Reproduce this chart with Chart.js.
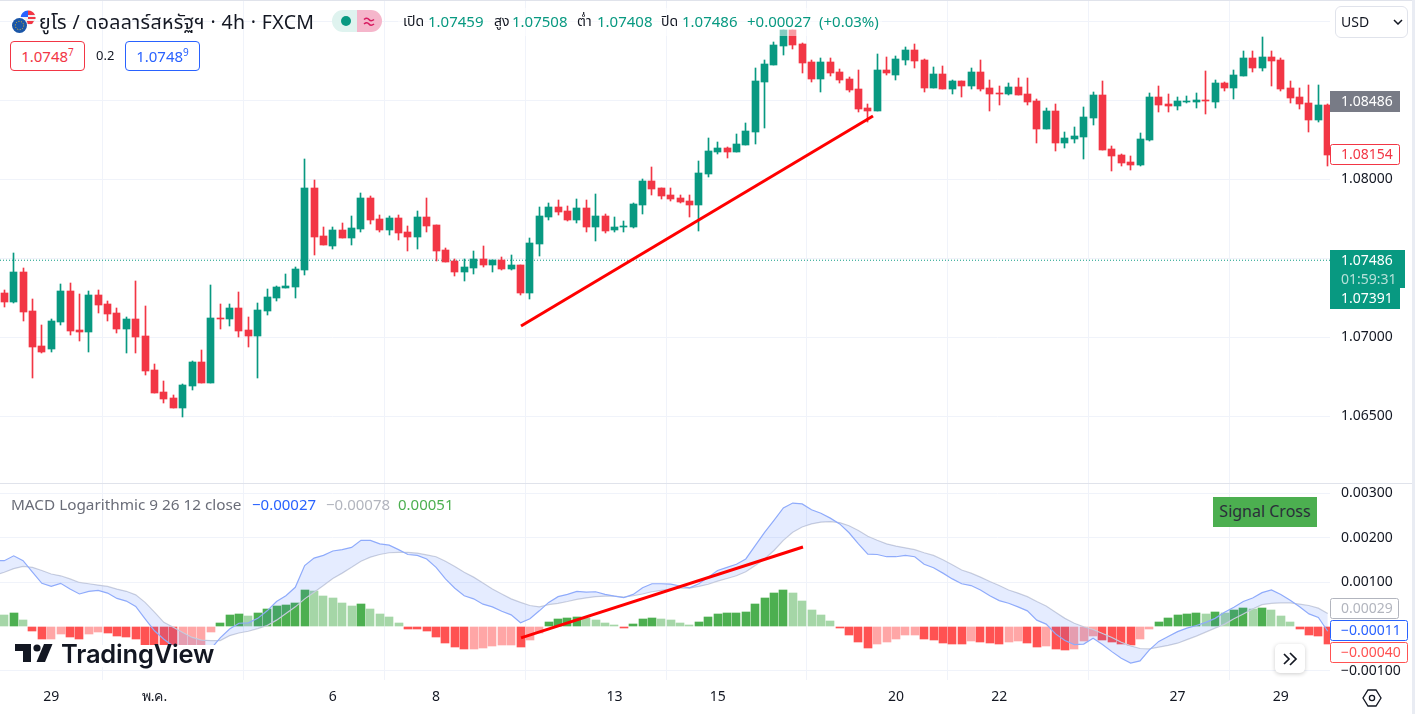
<!DOCTYPE html>
<html lang="th">
<head>
<meta charset="utf-8">
<title>EURUSD 4h</title>
<script src="https://cdn.jsdelivr.net/npm/chart.js@4/dist/chart.umd.min.js"></script>
<style>
    html, body { margin: 0; padding: 0; background: #fff; }
    body { width: 1415px; height: 714px; overflow: hidden; position: relative; font-family: "Noto Sans", "Noto Sans Thai", sans-serif; color: #131722; }
    canvas { position: absolute; left: 0; display: block; }
    .abs { position: absolute; white-space: nowrap; line-height: 1; }
    .pane-line { position: absolute; left: 0; top: 483px; width: 1415px; height: 1px; background: #e0e3eb; }
    .frame-top { position: absolute; left: 0; top: 0; width: 1415px; height: 1px; background: #e0e3eb; }
    .frame-right { position: absolute; left: 1412px; top: 0; width: 3px; height: 714px; background: #e9ecf3; }
    .legend-veil { position: absolute; left: 398px; top: 8px; width: 484px; height: 28px; background: rgba(255,255,255,0.5); }
    .quote { position: absolute; top: 41px; width: 73px; height: 28px; border: 1px solid; border-radius: 4px; font-size: 15px; line-height: 29px; text-align: center; background: #fff; }
    .quote sup { font-size: 10px; line-height: 0; }
    .signal { position: absolute; left: 1213px; top: 497px; width: 104px; height: 30px; background: #4caf50; color: #2a2e39; font-size: 16px; line-height: 28px; text-align: center; }
    .usd { position: absolute; left: 1335px; top: 6px; width: 71px; height: 30px; border: 1px solid #e0e3eb; border-radius: 6px; font-size: 14px; line-height: 30px; padding-left: 0; }
    .scroll-btn { position: absolute; left: 1275px; top: 644px; width: 30px; height: 29px; background: #fff; border-radius: 5px; box-shadow: 0 1px 4px rgba(0,0,0,0.2); }
    .logo-back { position: absolute; left: 12px; top: 645px; width: 203px; height: 22px; background: #fff; }
    .logo-text { position: absolute; left: 61px; top: 640px; font-family: Inter, sans-serif; font-size: 25.5px; font-weight: 600; line-height: 28px; letter-spacing: -0.2px; color: #131722; }
</style>
</head>
<body>
<canvas id="priceCanvas" width="1415" height="483" style="top:0"></canvas>
<canvas id="macdCanvas" width="1415" height="230" style="top:484px"></canvas>
<div class="pane-line"></div>
<div class="frame-top"></div>
<div class="frame-right"></div>
<div class="legend-veil"></div>

<svg class="abs" style="left:10px;top:9px" width="26" height="26" viewBox="0 0 26 26">
    <circle cx="18" cy="9" r="7.5" fill="#f0f0f0"/>
    <path d="M18 1.5a7.5 7.5 0 0 1 7 4.5h-7zM18 8h7.5v2H18zM16 12h8l-2 3h-6z" fill="#f23645"/>
    <path d="M10.5 9a7.5 7.5 0 0 1 7.5-7.5V8h-7z" fill="#2962ff"/>
    <circle cx="9.5" cy="16.5" r="8.5" fill="#fff"/>
    <circle cx="9.5" cy="16.5" r="7.5" fill="#1a56a8"/>
    <circle cx="9.5" cy="16.5" r="4.2" fill="none" stroke="#f5c518" stroke-width="1" stroke-dasharray="1 1.6"/>
</svg>
<div class="abs" id="title" style="left:39px;top:12px;font-size:19.5px;letter-spacing:0.35px;color:#131722">ยูโร / ดอลลาร์สหรัฐฯ · 4h · FXCM</div>

<svg class="abs" style="left:332px;top:10px" width="50" height="22" viewBox="0 0 50 22">
    <path d="M25 0H11a11 11 0 0 0 0 22h14z" fill="#dff3ef"/>
    <path d="M25 0h14a11 11 0 0 1 0 22H25z" fill="#f5b6cb"/>
    <circle cx="14" cy="11" r="5" fill="#089981"/>
    <path d="M32 9.5q3-2.5 5 0t5 0M32 14q3-2.5 5 0t5 0" fill="none" stroke="#d81b60" stroke-width="1.6"/>
</svg>

<div class="abs" style="left:403px;top:14px;font-size:14px">เปิด</div>
<div class="abs" style="left:428px;top:14px;font-size:15px;color:#089981">1.07459</div>
<div class="abs" style="left:494px;top:14px;font-size:14px">สูง</div>
<div class="abs" style="left:512px;top:14px;font-size:15px;color:#089981">1.07508</div>
<div class="abs" style="left:577px;top:14px;font-size:14px">ต่ำ</div>
<div class="abs" style="left:597px;top:14px;font-size:15px;color:#089981">1.07408</div>
<div class="abs" style="left:661px;top:14px;font-size:14px">ปิด</div>
<div class="abs" style="left:682px;top:14px;font-size:15px;color:#089981">1.07486</div>
<div class="abs" style="left:747px;top:14px;font-size:15px;color:#089981">+0.00027</div>
<div class="abs" style="left:819px;top:14px;font-size:15px;color:#089981">(+0.03%)</div>

<div class="quote" style="left:10px;color:#f23645;border-color:#f23645">1.0748<sup>7</sup></div>
<div class="abs" style="left:96px;top:49px;font-size:13px">0.2</div>
<div class="quote" style="left:125px;color:#2962ff;border-color:#2962ff">1.0748<sup>9</sup></div>

<div class="usd"><span style="margin-left:5px">USD</span>
    <svg class="abs" style="left:57px;top:12px" width="10" height="6" viewBox="0 0 10 6"><path d="M1 1l4 4 4-4" fill="none" stroke="#131722" stroke-width="1.5"/></svg>
</div>

<div class="abs" style="left:11px;top:497px;font-size:15.3px;color:#6a6d78">MACD Logarithmic 9 26 12 close</div>
<div class="abs" style="left:252px;top:497px;font-size:15px;color:#2962ff">−0.00027</div>
<div class="abs" style="left:326px;top:497px;font-size:15px;color:#b2b5be">−0.00078</div>
<div class="abs" style="left:398px;top:497px;font-size:15px;color:#4caf50">0.00051</div>

<div class="signal">Signal Cross</div>

<div class="logo-back"></div>
<svg class="abs" style="left:15px;top:644px" width="38" height="19" viewBox="0 0 38 19">
    <path d="M0 0h16v18H8V7H0z" fill="#131722"/>
    <circle cx="22" cy="4" r="3.6" fill="#131722"/>
    <path d="M29 0h8.5l-7.5 18h-8.5z" fill="#131722"/>
</svg>
<div class="logo-text">TradingView</div>

<div class="scroll-btn">
    <svg class="abs" style="left:8px;top:8px" width="15" height="14" viewBox="0 0 15 14"><path d="M1 2l5 5-5 5M7 1l6 6-6 6" fill="none" stroke="#131722" stroke-width="1.7"/></svg>
</div>
<svg class="abs" style="left:1362px;top:688px" width="20" height="20" viewBox="0 0 20 20">
    <path d="M6 2h8l5 8-5 8H6l-5-8z" fill="none" stroke="#131722" stroke-width="1.3"/>
    <circle cx="10" cy="10" r="2.6" fill="none" stroke="#131722" stroke-width="1.3"/>
</svg>

<script>
const candleOpen = [
    1.07279, 1.07222, 1.07412, 1.07165, 1.06943, 1.06924, 1.07095, 1.07291, 1.07044, 1.07032, 1.07266, 1.07209,
    1.07152, 1.07051, 1.07114, 1.07007, 1.06791, 1.06652, 1.06614, 1.06551, 1.06690, 1.06842, 1.06709, 1.07120,
    1.07114, 1.07184, 1.07044, 1.07007, 1.07165, 1.07247, 1.07310, 1.07317, 1.07424, 1.07943, 1.07640, 1.07576,
    1.07677, 1.07627, 1.07684, 1.07880, 1.07747, 1.07677, 1.07753, 1.07665, 1.07633, 1.07760, 1.07709, 1.07551,
    1.07481, 1.07412, 1.07437, 1.07494, 1.07456, 1.07487, 1.07430, 1.07456, 1.07278, 1.07589, 1.07759, 1.07823,
    1.07797, 1.07740, 1.07816, 1.07696, 1.07766, 1.07677, 1.07696, 1.07696, 1.07835, 1.07987, 1.07943, 1.07899,
    1.07880, 1.07861, 1.07835, 1.08031, 1.08170, 1.08196, 1.08170, 1.08215, 1.08297, 1.08614, 1.08721, 1.08841,
    1.08943, 1.08854, 1.08740, 1.08633, 1.08740, 1.08677, 1.08633, 1.08569, 1.08449, 1.08430, 1.08689, 1.08658,
    1.08753, 1.08816, 1.08753, 1.08576, 1.08664, 1.08569, 1.08620, 1.08588, 1.08677, 1.08576, 1.08544, 1.08538,
    1.08582, 1.08538, 1.08493, 1.08316, 1.08430, 1.08227, 1.08253, 1.08265, 1.08386, 1.08531, 1.08189, 1.08151,
    1.08107, 1.08088, 1.08246, 1.08519, 1.08474, 1.08462, 1.08487, 1.08487, 1.08500, 1.08487, 1.08607, 1.08576,
    1.08652, 1.08765, 1.08702, 1.08772, 1.08753, 1.08576, 1.08519, 1.08481, 1.08373, 1.08468
];
const candleHigh = [
    1.07298, 1.07532, 1.07437, 1.07241, 1.07076, 1.07114, 1.07336, 1.07342, 1.07272, 1.07291, 1.07298, 1.07228,
    1.07184, 1.07127, 1.07355, 1.07196, 1.06829, 1.06722, 1.06633, 1.06703, 1.06848, 1.06918, 1.07329, 1.07209,
    1.07209, 1.07285, 1.07127, 1.07215, 1.07304, 1.07323, 1.07399, 1.07443, 1.08127, 1.07994, 1.07696, 1.07696,
    1.07722, 1.07766, 1.07912, 1.07893, 1.07772, 1.07766, 1.07772, 1.07703, 1.07798, 1.07880, 1.07709, 1.07564,
    1.07494, 1.07494, 1.07544, 1.07576, 1.07487, 1.07506, 1.07519, 1.07456, 1.07627, 1.07823, 1.07848, 1.07867,
    1.07829, 1.07873, 1.07867, 1.07905, 1.07778, 1.07759, 1.07734, 1.07848, 1.08000, 1.08075, 1.07943, 1.07943,
    1.07899, 1.07899, 1.08113, 1.08259, 1.08234, 1.08202, 1.08284, 1.08354, 1.08702, 1.08753, 1.08867, 1.08943,
    1.08943, 1.08860, 1.08753, 1.08765, 1.08765, 1.08696, 1.08645, 1.08689, 1.08474, 1.08791, 1.08772, 1.08778,
    1.08835, 1.08854, 1.08759, 1.08708, 1.08715, 1.08626, 1.08620, 1.08702, 1.08753, 1.08626, 1.08588, 1.08607,
    1.08639, 1.08639, 1.08506, 1.08449, 1.08474, 1.08297, 1.08329, 1.08455, 1.08550, 1.08620, 1.08208, 1.08158,
    1.08145, 1.08291, 1.08544, 1.08588, 1.08538, 1.08519, 1.08525, 1.08544, 1.08683, 1.08626, 1.08614, 1.08689,
    1.08810, 1.08810, 1.08898, 1.08810, 1.08765, 1.08620, 1.08576, 1.08595, 1.08595, 1.08474
];
const candleLow = [
    1.07190, 1.07215, 1.07101, 1.06741, 1.06899, 1.06905, 1.07076, 1.07013, 1.06975, 1.06905, 1.07152, 1.07101,
    1.07026, 1.06899, 1.06899, 1.06760, 1.06646, 1.06582, 1.06551, 1.06494, 1.06665, 1.06709, 1.06709, 1.07051,
    1.07070, 1.07000, 1.06937, 1.06741, 1.07139, 1.07228, 1.07310, 1.07247, 1.07393, 1.07519, 1.07583, 1.07557,
    1.07627, 1.07583, 1.07665, 1.07715, 1.07665, 1.07646, 1.07614, 1.07545, 1.07557, 1.07665, 1.07481, 1.07475,
    1.07386, 1.07355, 1.07399, 1.07443, 1.07411, 1.07424, 1.07424, 1.07266, 1.07240, 1.07513, 1.07740, 1.07772,
    1.07734, 1.07722, 1.07665, 1.07608, 1.07658, 1.07665, 1.07665, 1.07690, 1.07778, 1.07898, 1.07873, 1.07861,
    1.07848, 1.07759, 1.07670, 1.08012, 1.08158, 1.08132, 1.08170, 1.08215, 1.08221, 1.08322, 1.08721, 1.08784,
    1.08822, 1.08671, 1.08614, 1.08550, 1.08652, 1.08607, 1.08550, 1.08424, 1.08360, 1.08430, 1.08658, 1.08626,
    1.08721, 1.08702, 1.08550, 1.08576, 1.08569, 1.08538, 1.08519, 1.08569, 1.08557, 1.08430, 1.08468, 1.08531,
    1.08531, 1.08468, 1.08227, 1.08316, 1.08177, 1.08196, 1.08227, 1.08126, 1.08341, 1.08183, 1.08050, 1.08082,
    1.08056, 1.08082, 1.08240, 1.08424, 1.08424, 1.08436, 1.08481, 1.08449, 1.08411, 1.08449, 1.08557, 1.08506,
    1.08652, 1.08677, 1.08683, 1.08588, 1.08557, 1.08481, 1.08443, 1.08297, 1.08360, 1.08082
];
const candleClose = [
    1.07222, 1.07412, 1.07158, 1.06937, 1.06905, 1.07101, 1.07291, 1.07038, 1.07032, 1.07266, 1.07203, 1.07146,
    1.07051, 1.07114, 1.07000, 1.06785, 1.06646, 1.06608, 1.06551, 1.06696, 1.06842, 1.06709, 1.07120, 1.07114,
    1.07184, 1.07038, 1.07007, 1.07171, 1.07253, 1.07317, 1.07323, 1.07431, 1.07943, 1.07633, 1.07583, 1.07677,
    1.07627, 1.07690, 1.07880, 1.07741, 1.07677, 1.07753, 1.07659, 1.07633, 1.07760, 1.07703, 1.07545, 1.07475,
    1.07412, 1.07443, 1.07494, 1.07456, 1.07487, 1.07430, 1.07456, 1.07278, 1.07595, 1.07766, 1.07823, 1.07791,
    1.07740, 1.07816, 1.07696, 1.07766, 1.07671, 1.07696, 1.07703, 1.07842, 1.07987, 1.07936, 1.07892, 1.07873,
    1.07854, 1.07835, 1.08038, 1.08177, 1.08196, 1.08170, 1.08221, 1.08303, 1.08620, 1.08727, 1.08848, 1.08943,
    1.08848, 1.08734, 1.08633, 1.08740, 1.08671, 1.08626, 1.08563, 1.08443, 1.08430, 1.08689, 1.08671, 1.08759,
    1.08816, 1.08746, 1.08576, 1.08664, 1.08569, 1.08620, 1.08588, 1.08677, 1.08569, 1.08538, 1.08538, 1.08582,
    1.08531, 1.08487, 1.08316, 1.08430, 1.08227, 1.08259, 1.08272, 1.08392, 1.08531, 1.08183, 1.08145, 1.08101,
    1.08088, 1.08253, 1.08519, 1.08468, 1.08462, 1.08493, 1.08493, 1.08500, 1.08493, 1.08607, 1.08576, 1.08658,
    1.08765, 1.08702, 1.08772, 1.08746, 1.08569, 1.08512, 1.08474, 1.08373, 1.08468, 1.08154
];

const macdLine = [
    0.00148, 0.00159, 0.00148, 0.00122, 0.00097, 0.00090, 0.00097, 0.00084, 0.00073, 0.00079, 0.00081, 0.00075,
    0.00063, 0.00057, 0.00045, 0.00017, -0.00010, -0.00029, -0.00045, -0.00055, -0.00062, -0.00062, -0.00051, -0.00026,
    -0.00006, 0.00007, 0.00008, 0.00018, 0.00035, 0.00056, 0.00069, 0.00088, 0.00137, 0.00154, 0.00160, 0.00170,
    0.00173, 0.00178, 0.00194, 0.00194, 0.00186, 0.00183, 0.00173, 0.00162, 0.00160, 0.00152, 0.00133, 0.00107,
    0.00086, 0.00069, 0.00062, 0.00050, 0.00044, 0.00034, 0.00026, 0.00008, 0.00017, 0.00035, 0.00054, 0.00067,
    0.00072, 0.00079, 0.00077, 0.00078, 0.00072, 0.00068, 0.00065, 0.00072, 0.00087, 0.00096, 0.00096, 0.00095,
    0.00091, 0.00087, 0.00096, 0.00111, 0.00126, 0.00133, 0.00140, 0.00152, 0.00182, 0.00212, 0.00239, 0.00267,
    0.00278, 0.00276, 0.00263, 0.00255, 0.00244, 0.00231, 0.00211, 0.00186, 0.00163, 0.00162, 0.00157, 0.00157,
    0.00160, 0.00157, 0.00140, 0.00132, 0.00120, 0.00107, 0.00096, 0.00092, 0.00082, 0.00069, 0.00058, 0.00052,
    0.00044, 0.00035, 0.00014, 0.00005, -0.00017, -0.00032, -0.00041, -0.00040, -0.00027, -0.00041, -0.00057, -0.00072,
    -0.00083, -0.00078, -0.00053, -0.00034, -0.00023, -0.00012, -0.00004, 0.00002, 0.00009, 0.00018, 0.00032, 0.00043,
    0.00056, 0.00064, 0.00076, 0.00082, 0.00072, 0.00059, 0.00044, 0.00028, 0.00020, -0.00011
];
const signalLine = [
    0.00122, 0.00130, 0.00135, 0.00133, 0.00126, 0.00118, 0.00114, 0.00107, 0.00099, 0.00096, 0.00093, 0.00090,
    0.00084, 0.00079, 0.00071, 0.00054, 0.00032, 0.00009, -0.00002, -0.00014, -0.00025, -0.00031, -0.00032, -0.00032,
    -0.00021, -0.00015, -0.00011, -0.00005, 0.00002, 0.00014, 0.00029, 0.00044, 0.00062, 0.00077, 0.00092, 0.00108,
    0.00120, 0.00133, 0.00147, 0.00156, 0.00162, 0.00166, 0.00167, 0.00167, 0.00165, 0.00161, 0.00157, 0.00147,
    0.00135, 0.00122, 0.00111, 0.00098, 0.00084, 0.00073, 0.00062, 0.00054, 0.00047, 0.00044, 0.00049, 0.00052,
    0.00056, 0.00061, 0.00064, 0.00067, 0.00068, 0.00068, 0.00066, 0.00069, 0.00073, 0.00078, 0.00081, 0.00084,
    0.00086, 0.00086, 0.00090, 0.00095, 0.00102, 0.00108, 0.00114, 0.00123, 0.00137, 0.00152, 0.00171, 0.00194,
    0.00212, 0.00224, 0.00231, 0.00235, 0.00236, 0.00234, 0.00227, 0.00216, 0.00203, 0.00194, 0.00186, 0.00181,
    0.00177, 0.00173, 0.00166, 0.00160, 0.00150, 0.00139, 0.00127, 0.00120, 0.00111, 0.00101, 0.00092, 0.00082,
    0.00075, 0.00067, 0.00056, 0.00046, 0.00032, 0.00018, 0.00007, -0.00001, -0.00007, -0.00016, -0.00025, -0.00036,
    -0.00044, -0.00050, -0.00051, -0.00047, -0.00043, -0.00038, -0.00030, -0.00022, -0.00013, -0.00004, 0.00005, 0.00017,
    0.00028, 0.00039, 0.00049, 0.00052, 0.00053, 0.00053, 0.00050, 0.00047, 0.00041, 0.00029
];
const macdHistogram = [
    0.00026, 0.00030, 0.00014, -0.00011, -0.00029, -0.00028, -0.00017, -0.00024, -0.00029, -0.00017, -0.00013, -0.00015,
    -0.00022, -0.00023, -0.00029, -0.00044, -0.00047, -0.00048, -0.00049, -0.00048, -0.00045, -0.00044, -0.00013, 0.00008,
    0.00026, 0.00027, 0.00023, 0.00030, 0.00039, 0.00046, 0.00048, 0.00053, 0.00082, 0.00080, 0.00069, 0.00064,
    0.00053, 0.00046, 0.00050, 0.00039, 0.00028, 0.00021, 0.00008, -0.00006, -0.00007, -0.00011, -0.00024, -0.00038,
    -0.00047, -0.00051, -0.00050, -0.00049, -0.00044, -0.00043, -0.00042, -0.00047, -0.00031, -0.00014, 0.00010, 0.00017,
    0.00019, 0.00021, 0.00019, 0.00014, 0.00008, 0.00003, -0.00004, 0.00005, 0.00017, 0.00019, 0.00017, 0.00014,
    0.00008, 0.00003, 0.00010, 0.00021, 0.00028, 0.00029, 0.00030, 0.00032, 0.00050, 0.00064, 0.00075, 0.00082,
    0.00075, 0.00057, 0.00037, 0.00026, 0.00012, -0.00004, -0.00020, -0.00035, -0.00049, -0.00040, -0.00035, -0.00029,
    -0.00020, -0.00019, -0.00029, -0.00031, -0.00038, -0.00039, -0.00040, -0.00033, -0.00035, -0.00038, -0.00040, -0.00035,
    -0.00034, -0.00038, -0.00047, -0.00044, -0.00051, -0.00053, -0.00051, -0.00033, -0.00022, -0.00031, -0.00035, -0.00040,
    -0.00041, -0.00029, -0.00006, 0.00010, 0.00019, 0.00026, 0.00028, 0.00029, 0.00028, 0.00032, 0.00031, 0.00037,
    0.00041, 0.00040, 0.00041, 0.00037, 0.00023, 0.00010, -0.00006, -0.00020, -0.00022, -0.00040
];

// the two lines come in from the bar just off the left edge
const macdOffscreen = 0.00148;
const signalOffscreen = 0.00115;

// tick labels
const timeTickIndex = [5, 16, 35, 46, 65, 76, 95, 106, 125, 136];
const timeTickLabels = ['29', 'พ.ค.', '6', '8', '13', '15', '20', '22', '27', '29'];
const priceTicks = [1.065, 1.07, 1.075, 1.08, 1.085, 1.09];
const priceTickLabels = ['1.06500', '1.07000', '', '1.08000', '', ''];
const macdTicks = [-0.001, 0, 0.001, 0.002, 0.003];
const macdTickLabels = ['−0.00100', '', '0.00100', '0.00200', '0.00300'];

// hand drawn trend lines (bar index, value)
const priceTrendIndex = [55.05, 92.55];
const priceTrendValue = [1.0707, 1.08399];
const macdTrendIndex = [55.05, 85.09];
const macdTrendValue = [-0.00026, 0.00179];

const currentPrice = 1.07486;
const previousClose = 1.08486;
const lastClose = 1.08154;

const GREEN = '#089981';
const RED = '#f23645';
const GRID = '#f0f3fa';
const FONT = '"Noto Sans", sans-serif';
const X_MIN = -0.46;
const X_MAX = 141.24;

const allIndex = candleOpen.map((_, i) => i);

function candleColor(i) {
    return candleClose[i] >= candleOpen[i] ? GREEN : RED;
}

function histColor(i) {
    const v = macdHistogram[i];
    const prev = i > 0 ? macdHistogram[i - 1] : v;
    if (v >= 0) {
        return v > prev ? '#4caf50' : '#a5d6a7';
    }
    return v < prev ? '#ff5252' : '#ffa6a6';
}

// line bars up with the pixel grid, otherwise the 1px wicks come out blurred
const snapBars = {
    id: 'snapBars',
    afterDatasetsUpdate(chart) {
        chart.data.datasets.forEach((ds, d) => {
            if (ds.type !== 'bar') {
                return;
            }
            chart.getDatasetMeta(d).data.forEach(el => {
                el.x = ds.barThickness % 2 ? Math.floor(el.x) + 0.5 : Math.round(el.x);
                el.y = Math.round(el.y);
                el.base = Math.round(el.base);
            });
        });
    }
};

function drawBadge(ctx, box, text, textColor) {
    ctx.save();
    ctx.fillStyle = box.fill;
    ctx.fillRect(box.x, box.y, box.w, box.h);
    if (box.stroke) {
        ctx.strokeStyle = box.stroke;
        ctx.lineWidth = 1;
        ctx.beginPath();
        ctx.roundRect(box.x + 0.5, box.y + 0.5, box.w - 1, box.h - 1, 2);
        ctx.stroke();
    }
    ctx.fillStyle = textColor;
    ctx.font = '14px ' + FONT;
    ctx.textAlign = 'left';
    ctx.textBaseline = 'middle';
    ctx.fillText(text, 1341, box.y + box.h / 2 + 0.5);
    ctx.restore();
}

const priceBadges = {
    id: 'priceBadges',
    afterDraw(chart) {
        const ctx = chart.ctx;
        const y = chart.scales.y;
        const prevY = Math.round(y.getPixelForValue(previousClose));
        const lastY = Math.round(y.getPixelForValue(lastClose));
        const curY = Math.round(y.getPixelForValue(currentPrice));
        drawBadge(ctx, { x: 1330, y: prevY - 11, w: 70, h: 21, fill: '#787b86' }, previousClose.toFixed(5), '#fff');
        drawBadge(ctx, { x: 1330, y: lastY - 11, w: 70, h: 21, fill: '#fff', stroke: RED }, lastClose.toFixed(5), RED);
        drawBadge(ctx, { x: 1330, y: curY + 28, w: 70, h: 21, fill: GREEN }, '1.07391', '#fff');
        drawBadge(ctx, { x: 1330, y: curY - 10, w: 75, h: 21, fill: GREEN }, currentPrice.toFixed(5), '#fff');
        drawBadge(ctx, { x: 1330, y: curY + 11, w: 75, h: 17, fill: GREEN }, '01:59:31', '#b5e0d8');
    }
};

const macdBadges = {
    id: 'macdBadges',
    afterDraw(chart) {
        const ctx = chart.ctx;
        const y = chart.scales.y;
        const sigY = Math.round(y.getPixelForValue(signalLine[signalLine.length - 1]));
        const lineY = Math.round(y.getPixelForValue(macdLine[macdLine.length - 1]));
        const histY = Math.round(y.getPixelForValue(macdHistogram[macdHistogram.length - 1]));
        // the last three values sit too close together, so the labels get pushed apart
        drawBadge(ctx, { x: 1330, y: sigY - 15, w: 69, h: 21, fill: '#fff', stroke: '#b2b5be' }, '0.00029', '#b2b5be');
        drawBadge(ctx, { x: 1330, y: lineY - 11, w: 78, h: 21, fill: '#fff', stroke: '#2962ff' }, '−0.00011', '#2962ff');
        drawBadge(ctx, { x: 1330, y: histY - 2, w: 78, h: 21, fill: '#fff', stroke: '#ff5252' }, '−0.00040', '#ff5252');
    }
};

function dropScalePadding(scale) {
    scale.paddingTop = 0;
    scale.paddingBottom = 0;
    scale.paddingLeft = 0;
    scale.paddingRight = 0;
}

function timeAxis(showLabels) {
    return {
        type: 'linear',
        offset: false,
        min: X_MIN,
        max: X_MAX,
        afterBuildTicks: scale => {
            scale.ticks = timeTickIndex.map(v => ({ value: v }));
        },
        afterFit: scale => {
            scale.height = showLabels ? 34 : 0;
            dropScalePadding(scale);
        },
        grid: { color: GRID, drawTicks: false },
        border: { display: false },
        ticks: {
            display: showLabels,
            autoSkip: false,
            maxRotation: 0,
            padding: 9,
            color: '#131722',
            font: { family: FONT, size: 14 },
            callback: value => timeTickLabels[timeTickIndex.indexOf(value)]
        }
    };
}

function valueAxis(min, max, ticks, labels) {
    return {
        position: 'right',
        min: min,
        max: max,
        afterBuildTicks: scale => {
            scale.ticks = ticks.map(v => ({ value: v }));
        },
        afterFit: scale => {
            scale.width = 85;
            dropScalePadding(scale);
        },
        grid: {
            drawTicks: false,
            color: ctx => (ctx.tick && ctx.tick.value === 0 ? 'rgba(0,0,0,0)' : GRID)
        },
        border: { display: false },
        ticks: {
            autoSkip: false,
            padding: 11,
            color: '#131722',
            font: { family: FONT, size: 14 },
            callback: value => labels[ticks.indexOf(value)]
        }
    };
}

function baseOptions() {
    return {
        responsive: false,
        animation: false,
        events: [],
        layout: { autoPadding: false, padding: 0 },
        plugins: { legend: { display: false }, tooltip: { enabled: false } }
    };
}

new Chart(document.getElementById('priceCanvas').getContext('2d'), {
    type: 'bar',
    data: {
        datasets: [
            {
                type: 'line',
                data: [{ x: X_MIN, y: currentPrice }, { x: X_MAX, y: currentPrice }],
                borderColor: GREEN,
                borderWidth: 1,
                borderDash: [1, 2],
                pointRadius: 0,
                order: 3
            },
            {
                type: 'bar',
                data: allIndex.map(i => ({ x: i, y: [candleLow[i], candleHigh[i]] })),
                backgroundColor: allIndex.map(candleColor),
                barThickness: 1,
                grouped: false,
                order: 2
            },
            {
                type: 'bar',
                data: allIndex.map(i => ({ x: i, y: [candleOpen[i], candleClose[i]] })),
                backgroundColor: allIndex.map(candleColor),
                barThickness: 7,
                minBarLength: 1,
                grouped: false,
                order: 1
            },
            {
                type: 'line',
                data: priceTrendIndex.map((x, i) => ({ x: x, y: priceTrendValue[i] })),
                borderColor: '#ff0000',
                borderWidth: 3,
                pointRadius: 0,
                order: 0
            }
        ]
    },
    options: Object.assign(baseOptions(), {
        scales: {
            x: timeAxis(false),
            y: valueAxis(1.06076, 1.09133, priceTicks, priceTickLabels)
        }
    }),
    plugins: [snapBars, priceBadges]
});

new Chart(document.getElementById('macdCanvas').getContext('2d'), {
    type: 'bar',
    data: {
        datasets: [
            {
                type: 'bar',
                data: allIndex.map(i => ({ x: i, y: macdHistogram[i] })),
                backgroundColor: allIndex.map(histColor),
                barThickness: 8,
                grouped: false,
                order: 4
            },
            {
                type: 'line',
                data: [{ x: -1, y: signalOffscreen }].concat(allIndex.map(i => ({ x: i, y: signalLine[i] }))),
                borderColor: '#cfd2dc',
                borderWidth: 1.2,
                pointRadius: 0,
                order: 3
            },
            {
                type: 'line',
                data: [{ x: -1, y: macdOffscreen }].concat(allIndex.map(i => ({ x: i, y: macdLine[i] }))),
                borderColor: '#8fabfb',
                borderWidth: 1.2,
                pointRadius: 0,
                fill: { target: 1, above: 'rgba(41,98,255,0.12)', below: 'rgba(41,98,255,0.12)' },
                order: 2
            },
            {
                type: 'line',
                data: macdTrendIndex.map((x, i) => ({ x: x, y: macdTrendValue[i] })),
                borderColor: '#ff0000',
                borderWidth: 3,
                pointRadius: 0,
                order: 0
            }
        ]
    },
    options: Object.assign(baseOptions(), {
        scales: {
            x: timeAxis(true),
            y: valueAxis(-0.00121, 0.00321, macdTicks, macdTickLabels)
        },
        plugins: {
            legend: { display: false },
            tooltip: { enabled: false },
            filler: { drawTime: 'beforeDatasetDraw' }
        }
    }),
    plugins: [snapBars, macdBadges]
});
</script>
</body>
</html>
